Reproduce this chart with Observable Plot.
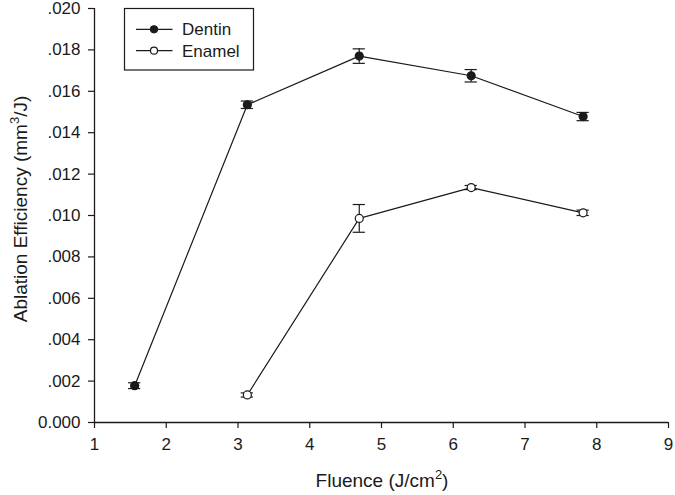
<!DOCTYPE html>
<html>
<head>
<meta charset="utf-8">
<script src="https://cdn.jsdelivr.net/npm/d3@7"></script>
<script src="https://cdn.jsdelivr.net/npm/@observablehq/plot@0.6"></script>
<style>
  html, body { margin: 0; padding: 0; background: #fff; }
  #chart svg { display: block; }
</style>
</head>
<body>
<div id="chart"></div>
<script>
const fluence = [1.56, 3.13, 4.69, 6.25, 7.81];
const dentinMean = [0.00178, 0.01535, 0.01770, 0.01675, 0.01478];
const dentinErr  = [0.00014, 0.00018, 0.00035, 0.00030, 0.00020];
const enamelFluence = [3.13, 4.69, 6.25, 7.81];
const enamelMean = [0.00133, 0.00986, 0.01135, 0.01013];
const enamelErr  = [0.00010, 0.00067, 0.00010, 0.00013];
const xTicks = [1, 2, 3, 4, 5, 6, 7, 8, 9];
const yTicks = [0, 0.002, 0.004, 0.006, 0.008, 0.010, 0.012, 0.014, 0.016, 0.018, 0.020];
const seriesNames = ["Dentin", "Enamel"];

const data = [
  ...fluence.map((x, i) => ({series: "Dentin", x, y: dentinMean[i], e: dentinErr[i]})),
  ...enamelFluence.map((x, i) => ({series: "Enamel", x, y: enamelMean[i], e: enamelErr[i]}))
];
const capHalf = 0.085;
const ink = "#1a1a1a";
const font = "Liberation Sans, Arial, sans-serif";

const chart = Plot.plot({
  width: 675,
  height: 495,
  marginLeft: 94,
  marginRight: 7,
  marginTop: 8,
  marginBottom: 73,
  style: {fontFamily: font, fontSize: "17px", color: ink, background: "#fff"},
  x: {domain: [1, 9], ticks: xTicks, tickSize: 6, tickPadding: 9, label: null, tickFormat: d3.format("d")},
  y: {domain: [0, 0.020], ticks: yTicks, tickSize: 6, tickPadding: 8, label: null,
      tickFormat: d => d === 0 ? "0.000" : d3.format(".3f")(d).replace(/^0/, "")},
  marks: [
    Plot.ruleX([1], {stroke: ink, strokeWidth: 1.3}),
    Plot.ruleY([0], {stroke: ink, strokeWidth: 1.3}),
    Plot.line(data, {x: "x", y: "y", z: "series", stroke: ink, strokeWidth: 1.2}),
    Plot.ruleX(data, {x: "x", y1: d => d.y - d.e, y2: d => d.y + d.e, stroke: ink, strokeWidth: 1.2}),
    Plot.ruleY(data, {y: d => d.y - d.e, x1: d => d.x - capHalf, x2: d => d.x + capHalf, stroke: ink, strokeWidth: 1.2}),
    Plot.ruleY(data, {y: d => d.y + d.e, x1: d => d.x - capHalf, x2: d => d.x + capHalf, stroke: ink, strokeWidth: 1.2}),
    Plot.dot(data, {x: "x", y: "y", r: 4, stroke: ink, strokeWidth: 1.2,
      fill: d => d.series === "Dentin" ? ink : "#fff"})
  ]
});

const svg = d3.select(chart);
svg.selectAll("g[aria-label='x-axis tick label'], g[aria-label='y-axis tick label']")
  .attr("font-size", 17).attr("font-family", font).attr("fill", ink);
svg.selectAll("g[aria-label='x-axis tick'], g[aria-label='y-axis tick']")
  .attr("stroke", ink).attr("stroke-width", 1.2);

// Axis labels with superscripts
const xl = svg.append("text")
  .attr("x", 382).attr("y", 487).attr("text-anchor", "middle")
  .attr("font-family", font).attr("font-size", 19).attr("fill", ink);
xl.append("tspan").text("Fluence (J/cm");
xl.append("tspan").attr("dy", -8).attr("font-size", 13).text("2");
xl.append("tspan").attr("dy", 8).text(")");

const yl = svg.append("text")
  .attr("transform", "translate(27,209) rotate(-90)").attr("text-anchor", "middle")
  .attr("font-family", font).attr("font-size", 19).attr("fill", ink);
yl.append("tspan").text("Ablation Efficiency (mm");
yl.append("tspan").attr("dy", -8).attr("font-size", 13).text("3");
yl.append("tspan").attr("dy", 8).text("/J)");

// Legend
const lg = svg.append("g");
lg.append("rect").attr("x", 124.5).attr("y", 8.5).attr("width", 129).attr("height", 61.5)
  .attr("fill", "#fff").attr("stroke", ink).attr("stroke-width", 1.2);
seriesNames.forEach((name, i) => {
  const yy = 29.3 + i * 21.4;
  lg.append("line").attr("x1", 136).attr("x2", 172.5).attr("y1", yy).attr("y2", yy)
    .attr("stroke", ink).attr("stroke-width", 1.2);
  lg.append("circle").attr("cx", 154).attr("cy", yy).attr("r", 3.5)
    .attr("fill", name === "Dentin" ? ink : "#fff").attr("stroke", ink).attr("stroke-width", 1.2);
  lg.append("text").attr("x", 182).attr("y", yy + 6).attr("text-anchor", "start")
    .attr("font-family", font).attr("font-size", 17).attr("fill", ink).text(name);
});

document.getElementById("chart").appendChild(chart);
</script>
</body>
</html>
